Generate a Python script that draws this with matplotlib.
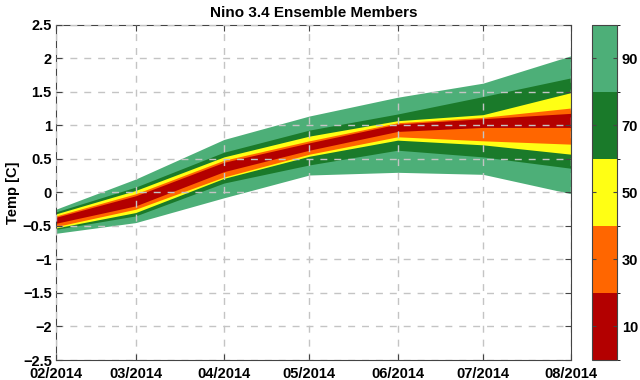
import numpy as np
import matplotlib
matplotlib.use('Agg')
import matplotlib.pyplot as plt
from matplotlib.colors import ListedColormap, BoundaryNorm
from matplotlib.cm import ScalarMappable

plt.rcParams['font.family'] = ['Liberation Sans', 'DejaVu Sans']
plt.rcParams['font.weight'] = 'bold'

months = np.array(['2014-02-01', '2014-03-01', '2014-04-01', '2014-05-01',
                   '2014-06-01', '2014-07-01', '2014-08-01'], dtype='datetime64[D]')
tick_labels = ['02/2014', '03/2014', '04/2014', '05/2014', '06/2014', '07/2014', '08/2014']
yticks = [-2.5, -2, -1.5, -1, -0.5, 0, 0.5, 1, 1.5, 2, 2.5]

p05 = [-0.61, -0.45, -0.08, 0.26, 0.30, 0.27, -0.02]
p15 = [-0.55, -0.35, 0.14, 0.41, 0.63, 0.53, 0.36]
p25 = [-0.53, -0.30, 0.21, 0.54, 0.78, 0.71, 0.57]
p35 = [-0.51, -0.25, 0.23, 0.57, 0.83, 0.77, 0.72]
p45 = [-0.46, -0.20, 0.31, 0.63, 0.91, 0.97, 0.97]
p55 = [-0.37, -0.05, 0.45, 0.74, 1.02, 1.10, 1.18]
p65 = [-0.35, -0.02, 0.48, 0.77, 1.04, 1.12, 1.26]
p75 = [-0.32, 0.03, 0.53, 0.84, 1.07, 1.16, 1.49]
p85 = [-0.29, 0.08, 0.60, 0.93, 1.17, 1.43, 1.71]
p95 = [-0.25, 0.20, 0.79, 1.14, 1.42, 1.63, 2.04]

band_labels = [10, 30, 50, 70, 90]
band_colors = ['#b30000', '#ff6600', '#ffff14', '#1a7a2a', '#4daf78']

fig = plt.figure(figsize=(6.4, 3.8), dpi=100)
ax = fig.add_axes([0.0875, 0.0526, 0.805, 0.882])

# widest first so the narrow bands sit on top
bands = [(p05, p95), (p15, p85), (p25, p75), (p35, p65), (p45, p55)]
for (lo, hi), c in zip(bands, band_colors[::-1]):
    ax.fill_between(months, lo, hi, color=c, linewidth=0)

ax.set_xlim(months[0], months[-1])
ax.set_ylim(-2.5, 2.5)
ax.set_xticks(months)
ax.set_xticklabels(tick_labels)
ax.set_yticks(yticks)
ax.set_yticklabels([('%g' % v).replace('-', '\u2212') for v in yticks])
ax.tick_params(direction='in', length=4, top=True, right=True, labelsize=10.5,
               color='#444444', pad=3)
ax.tick_params(axis='x', pad=5)
ax.grid(True, linestyle=(0, (5, 5)), color='#c4c4c4', linewidth=1)
ax.set_axisbelow(False)
for s in ax.spines.values():
    s.set_color('#444444')
ax.set_ylabel('Temp [C]', fontsize=10.5, fontweight='bold', labelpad=2)
ax.set_title('Nino 3.4 Ensemble Members', fontsize=11, fontweight='bold', pad=6)

cax = fig.add_axes([0.925, 0.0526, 0.039, 0.882])
cmap = ListedColormap(band_colors)
norm = BoundaryNorm([0, 20, 40, 60, 80, 100], cmap.N)
cb = fig.colorbar(ScalarMappable(norm=norm, cmap=cmap), cax=cax, ticks=band_labels)
cb.outline.set_edgecolor('#444444')
cax.tick_params(direction='in', length=3, left=True, right=True, labelsize=10.5,
                color='#444444')
cax.set_yticklabels([str(v) for v in band_labels])

fig.savefig('out.png', dpi=100)
